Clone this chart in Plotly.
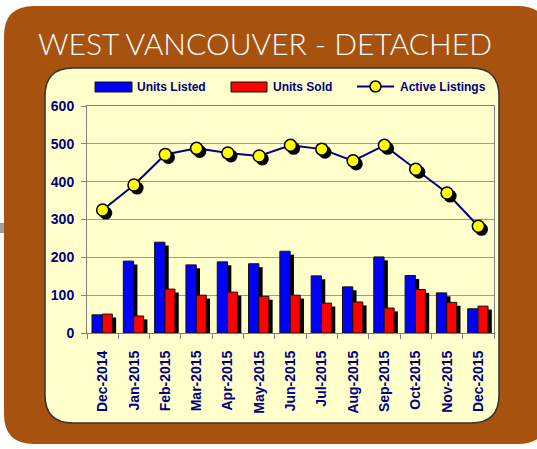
import plotly.graph_objects as go

months = ["Dec-2014", "Jan-2015", "Feb-2015", "Mar-2015", "Apr-2015", "May-2015",
          "Jun-2015", "Jul-2015", "Aug-2015", "Sep-2015", "Oct-2015", "Nov-2015", "Dec-2015"]
units_listed = [48, 190, 240, 180, 188, 183, 216, 151, 122, 201, 152, 106, 64]
units_sold = [50, 45, 116, 100, 108, 97, 100, 79, 82, 66, 115, 81, 71]
active_listings = [325, 391, 472, 488, 476, 468, 496, 486, 455, 496, 433, 370, 282]
y_ticks = [0, 100, 200, 300, 400, 500, 600]

W, H = 537, 449
NAVY = "#000080"
BROWN = "#A8520F"
PANEL = "#FFFFCC"
x_idx = list(range(len(months)))

def px(x):
    return x / W

def py(y):
    return 1 - y / H

def rrect(x0, y0, x1, y1, r):
    X0, X1 = px(x0), px(x1)
    Y0, Y1 = py(y0), py(y1)
    rx, ry = r / W, r / H
    return (f"M {X0+rx},{Y0} L {X1-rx},{Y0} Q {X1},{Y0} {X1},{Y0-ry} "
            f"L {X1},{Y1+ry} Q {X1},{Y1} {X1-rx},{Y1} L {X0+rx},{Y1} "
            f"Q {X0},{Y1} {X0},{Y1+ry} L {X0},{Y0-ry} Q {X0},{Y0} {X0+rx},{Y0} Z")

SH_DX = 0.12   # shadow offset (category units)
SH_DY = 9      # shadow drop (value units)

fig = go.Figure()

fig.add_trace(go.Bar(x=x_idx, y=[max(v - SH_DY, 0) for v in units_listed], offset=-0.34 + SH_DX,
                     width=0.33, marker=dict(color="black", line=dict(width=0)), showlegend=False,
                     hoverinfo="skip"))
fig.add_trace(go.Bar(x=x_idx, y=units_listed, offset=-0.34, width=0.33, name="Units Listed",
                     marker=dict(color="#0000FF", line=dict(color="#111111", width=1)), showlegend=False))
fig.add_trace(go.Bar(x=x_idx, y=[max(v - SH_DY, 0) for v in units_sold], offset=-0.01 + SH_DX,
                     width=0.32, marker=dict(color="black", line=dict(width=0)), showlegend=False,
                     hoverinfo="skip"))
fig.add_trace(go.Bar(x=x_idx, y=units_sold, offset=-0.01, width=0.32, name="Units Sold",
                     marker=dict(color="#FF0000", line=dict(color="#111111", width=1)), showlegend=False))

fig.add_trace(go.Scatter(x=x_idx, y=active_listings, mode="lines", line=dict(color=NAVY, width=2),
                         showlegend=False, hoverinfo="skip"))
fig.add_trace(go.Scatter(x=[i + 0.1 for i in x_idx], y=[v - 8 for v in active_listings], mode="markers",
                         marker=dict(color="black", size=13, line=dict(width=0)),
                         showlegend=False, hoverinfo="skip"))
fig.add_trace(go.Scatter(x=x_idx, y=active_listings, mode="markers", name="Active Listings",
                         marker=dict(color="#FFFF00", size=12, line=dict(color="black", width=1.5)),
                         showlegend=False))

shapes = [
    dict(type="rect", xref="paper", yref="paper", x0=px(0), x1=px(5), y0=py(233), y1=py(223),
         fillcolor="#A0A0A0", line=dict(width=0), layer="below"),
    dict(type="path", xref="paper", yref="paper", path=rrect(4, 6, 548, 444, 30),
         fillcolor=BROWN, line=dict(width=0), layer="below"),
    dict(type="path", xref="paper", yref="paper", path=rrect(45, 68, 499, 423, 28),
         fillcolor=PANEL, line=dict(color="#333333", width=1.5), layer="below"),
    dict(type="rect", xref="paper", yref="paper", x0=px(95), x1=px(132), y0=py(92), y1=py(82),
         fillcolor="#0000FF", line=dict(color="#111111", width=1)),
    dict(type="rect", xref="paper", yref="paper", x0=px(231), x1=px(267), y0=py(92), y1=py(82),
         fillcolor="#FF0000", line=dict(color="#111111", width=1)),
    dict(type="line", xref="paper", yref="paper", x0=px(357), x1=px(394), y0=py(86.5), y1=py(86.5),
         line=dict(color=NAVY, width=2)),
    dict(type="circle", xref="paper", yref="paper", x0=px(370), x1=px(381), y0=py(92), y1=py(81),
         fillcolor="#FFFF00", line=dict(color="black", width=1.5)),
]

leg_font = dict(family="Liberation Sans", size=12, color=NAVY, weight="bold")
annotations = [
    dict(text="WEST VANCOUVER - DETACHED", x=px(265), y=py(43), xref="paper", yref="paper",
         showarrow=False, xanchor="center", yanchor="middle",
         font=dict(family="Lato", size=30, color="white", weight=300)),
    dict(text="Units Listed", x=px(135), y=py(87), xref="paper", yref="paper", showarrow=False,
         xanchor="left", yanchor="middle", font=leg_font),
    dict(text="Units Sold", x=px(271), y=py(87), xref="paper", yref="paper", showarrow=False,
         xanchor="left", yanchor="middle", font=leg_font),
    dict(text="Active Listings", x=px(398), y=py(87), xref="paper", yref="paper", showarrow=False,
         xanchor="left", yanchor="middle", font=leg_font),
]

tick_font = dict(family="Liberation Sans", size=14, color=NAVY, weight="bold")

fig.update_layout(
    width=W, height=H, autosize=False,
    margin=dict(l=0, r=0, t=0, b=0, pad=0),
    paper_bgcolor="white",
    plot_bgcolor="rgba(0,0,0,0)",
    barmode="overlay",
    showlegend=False,
    shapes=shapes,
    annotations=annotations,
    xaxis=dict(domain=[px(87), px(494)], range=[-0.5, len(months) - 0.5], automargin=False,
               tickmode="array", tickvals=x_idx, ticktext=months, tickangle=-90,
               tickfont=tick_font, ticks="outside", ticklen=5, tickcolor="rgba(0,0,0,0)",
               ticklabelstandoff=6,
               minor=dict(ticks="outside", ticklen=5, tickcolor="#808080", tick0=0.5, dtick=1,
                          showgrid=False),
               showgrid=False, zeroline=False, showline=True, linecolor="#808080", linewidth=1,
               mirror=True, fixedrange=True),
    yaxis=dict(domain=[py(333), py(106)], range=[0, 600], automargin=False,
               tickmode="array", tickvals=y_ticks,
               tickfont=tick_font, ticks="outside", ticklen=5, tickcolor="#808080",
               ticklabelstandoff=4,
               showgrid=True, gridcolor="#999999", gridwidth=1, zeroline=False,
               showline=True, linecolor="#808080", linewidth=1, mirror=True, fixedrange=True),
)

fig.write_html("out.html")
